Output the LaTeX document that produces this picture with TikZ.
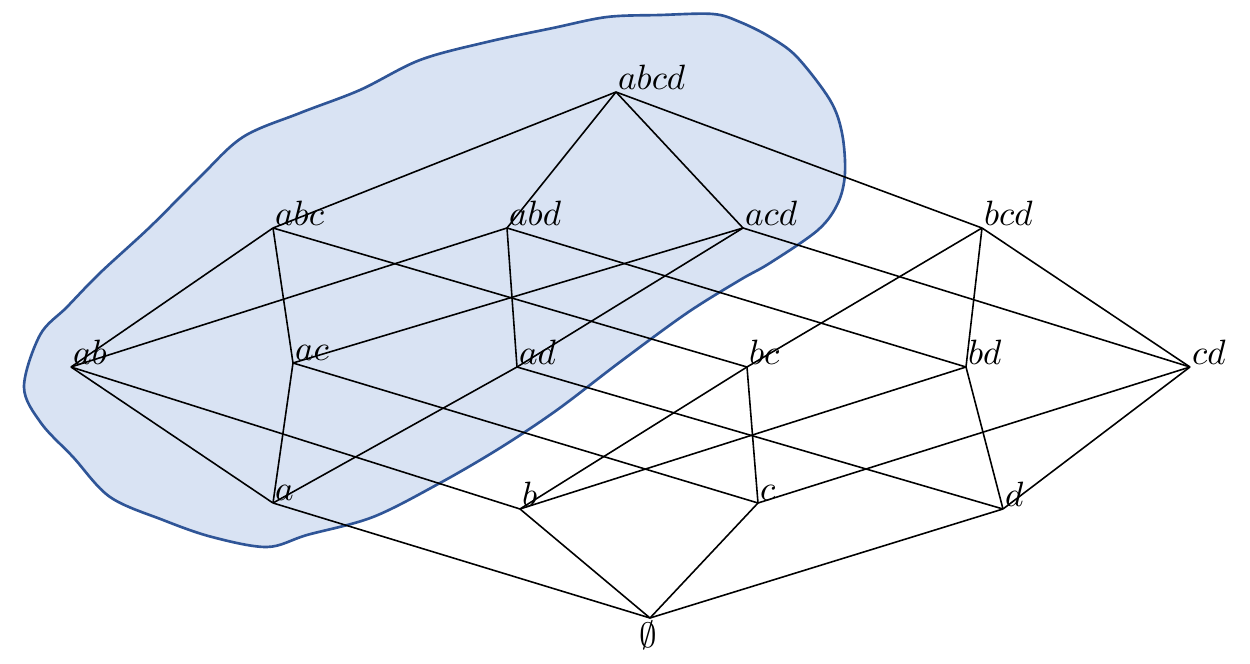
\documentclass[tikz,border=0pt]{standalone}
\usetikzlibrary{calc}
\definecolor{blobfill}{HTML}{D9E3F3}
\definecolor{blobline}{HTML}{2F5597}
\begin{document}
\begin{tikzpicture}[x=0.01cm,y=-0.01cm,
  edge/.style={draw=black,line width=0.45pt},
  lab/.style={anchor=base west,inner sep=0pt,xshift=0.4pt,yshift=0.7pt,font=\normalsize},
  blob/.style={fill=blobfill,draw=blobline,line width=0.75pt}]
\useasboundingbox (0,0) rectangle (1250,664);
% blob
\draw[blob] plot[smooth cycle,tension=0.55] coordinates {
(420,60) (487,42) (553,28) (607,17) (660,15) (713,14) (740,22) (770,37)
(797,57) (830,100) (842,133) (845,173) (838,203) (818,230)
(770,263) (740,280) (687,313) (620,362)
(557,410) (500,448) (440,483) (373,517)
(307,535) (267,547) (212,537) (163,520) (110,497)
(73,457) (41,423) (24,387) (40,335) (67,307) (100,273)
(150,227) (200,177) (243,137) (300,113) (360,90)};
% vertices
\coordinate (abcd) at (616,92);
\coordinate (abc) at (273,228);
\coordinate (abd) at (507,228);
\coordinate (acd) at (743,228);
\coordinate (bcd) at (982,228);
\coordinate (ab) at (71,367);
\coordinate (ac) at (293,363);
\coordinate (ad) at (517,367);
\coordinate (bc) at (747,367);
\coordinate (bd) at (966,367);
\coordinate (cd) at (1190,367);
\coordinate (a) at (273,503);
\coordinate (b) at (520,509);
\coordinate (c) at (758,503);
\coordinate (d) at (1003,509);
\coordinate (e) at (650,618);
% edges
\foreach \u/\v in {abcd/abc,abcd/abd,abcd/acd,abcd/bcd,
  abc/ab,abc/ac,abc/bc,abd/ab,abd/ad,abd/bd,acd/ac,acd/ad,acd/cd,bcd/bc,bcd/bd,bcd/cd,
  ab/a,ab/b,ac/a,ac/c,ad/a,ad/d,bc/b,bc/c,bd/b,bd/d,cd/c,cd/d,
  a/e,b/e,c/e,d/e}
  \draw[edge] (\u) -- (\v);
% labels
\foreach \n in {abcd,abc,abd,acd,bcd,ab,ac,ad,bc,bd,cd,a,b,c,d}
  \node[lab] (l\n) at (\n) {$\n$};
\node[anchor=north,inner sep=0.8pt,xshift=-0.5pt] (le) at (e) {$\emptyset$};
\end{tikzpicture}
\end{document}
